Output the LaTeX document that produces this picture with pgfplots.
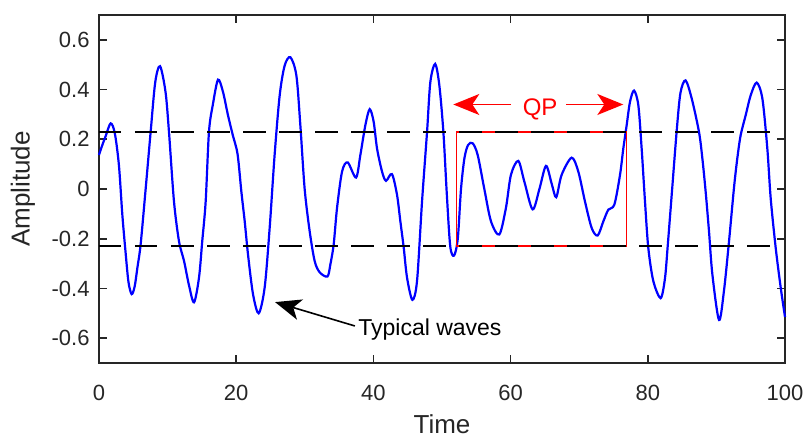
\documentclass[border=0pt]{standalone}
\usepackage{pgfplots}
\pgfplotsset{compat=1.18}
\usepackage{fontspec}
\setmainfont{Liberation Sans}
\usetikzlibrary{arrows.meta}
\definecolor{axgray}{gray}{0.15}
\pgfplotstableread{
x y
0 0.137
0.5 0.178
1.0 0.215
1.7 0.264
2.3 0.225
2.9 0.097
3.4 -0.103
3.9 -0.263
4.3 -0.375
4.76 -0.423
5.2 -0.392
5.6 -0.316
6.07 -0.223
6.8 0.0
7.53 0.23
8.2 0.43
8.9 0.494
9.7 0.39
10.2 0.23
10.93 -0.05
11.66 -0.21
12.4 -0.29
13.1 -0.385
13.85 -0.456
14.58 -0.356
15.05 -0.21
15.55 -0.05
16.03 0.23
16.6 0.34
17.35 0.44
18.08 0.39
18.8 0.297
19.5 0.217
20.2 0.14
20.75 -0.01
21.24 -0.13
21.72 -0.263
22.45 -0.423
23.28 -0.50
24.15 -0.396
24.88 -0.156
25.6 0.137
26.34 0.377
27.07 0.497
27.9 0.53
28.77 0.457
29.35 0.257
29.98 0.0
30.71 -0.17
31.44 -0.29
32.17 -0.335
33.3 -0.352
33.73 -0.303
34.21 -0.223
34.7 -0.076
35.43 0.07
36.25 0.107
37.47 0.046
38.1 0.137
38.83 0.257
39.46 0.321
40.04 0.27
40.53 0.163
41.26 0.07
41.84 0.033
42.7 0.06
43.44 -0.023
43.93 -0.13
44.42 -0.236
44.9 -0.356
45.68 -0.446
46.36 -0.37
47.09 -0.05
47.82 0.23
48.3 0.43
49.0 0.503
49.6 0.42
50.2 0.23
50.7 -0.02
51.2 -0.23
51.75 -0.268
52.3 -0.2
52.77 0.0
53.27 0.124
53.8 0.177
54.47 0.184
55.2 0.137
56.17 0.0
57.14 -0.13
58.35 -0.183
59.32 -0.076
60.05 0.057
61.12 0.113
62.0 0.03
63.21 -0.082
64.2 0.0
65.16 0.093
66.0 0.02
66.65 -0.033
67.44 0.057
68.9 0.126
69.87 0.07
70.84 -0.05
71.82 -0.157
72.69 -0.187
73.52 -0.13
74.25 -0.083
75.12 -0.063
75.95 0.057
76.43 0.163
76.92 0.257
77.4 0.35
77.99 0.396
78.62 0.337
79.1 0.164
79.59 -0.05
80.07 -0.236
80.8 -0.37
81.87 -0.439
82.5 -0.36
82.9 -0.23
83.55 0.0
84.2 0.23
84.75 0.385
85.5 0.437
86.4 0.364
87.46 0.23
87.95 0.124
88.43 -0.01
88.92 -0.17
89.41 -0.343
90.38 -0.527
91.1 -0.41
91.84 -0.21
92.56 0.004
93.05 0.124
93.54 0.217
94.27 0.297
95.0 0.377
95.87 0.428
96.7 0.364
97.42 0.164
97.91 -0.036
98.64 -0.236
99.37 -0.396
100 -0.515
}\wave
\begin{document}
\begin{tikzpicture}
\useasboundingbox (-49.5pt,-38pt) rectangle (354pt,181.5pt);
\begin{axis}[
  at={(0,0)}, anchor=south west,
  scale only axis, width=343pt, height=174pt,
  xmin=0, xmax=100, ymin=-0.7, ymax=0.7,
  xtick={0,20,40,60,80,100},
  ytick={-0.6,-0.4,-0.2,0,0.2,0.4,0.6},
  tick align=inside, major tick length=4pt,
  axis line style={axgray, line width=0.8pt},
  every tick/.style={axgray, line width=0.8pt},
  /pgf/number format/assume math mode=true,
  yticklabel style={/pgf/number format/fixed, /pgf/number format/precision=1},
  ticklabel style={font=\fontsize{11}{13}\selectfont, text=axgray},
  xticklabel style={anchor=base, yshift=-18.5pt},
  yticklabel style={anchor=east, xshift=-1.2pt},
  xlabel={Time}, ylabel={Amplitude},
  label style={font=\fontsize{13}{15}\selectfont, text=axgray},
  xlabel style={at={(axis description cs:0.5,-0.175)}, anchor=center},
  ylabel style={at={(axis description cs:-0.1108,0.5)}, anchor=center},
  clip=false,
]
\addplot[blue, line width=1.1pt, smooth] table[x=x,y=y] {\wave};
\addplot[red, line width=0.8pt] coordinates {(52.1,-0.229) (52.1,0.229) (76.9,0.229) (76.9,-0.229) (52.1,-0.229)};
\addplot[black, line width=1pt, dash pattern=on 11.25pt off 6.75pt] coordinates {(0,0.229) (98,0.229)};
\addplot[black, line width=1pt, dash pattern=on 11.25pt off 6.75pt] coordinates {(0,-0.229) (98,-0.229)};
\node[red, anchor=base, font=\fontsize{12}{14}\selectfont, inner sep=0pt] at (axis cs:64.3,0.297) {QP};
\draw[red, line width=0.8pt, -{Stealth[length=13pt, width=10.5pt, inset=3.5pt]}] (axis cs:60.06,0.34) -- (axis cs:51.65,0.34);
\draw[red, line width=0.8pt, -{Stealth[length=13pt, width=10.5pt, inset=3.5pt]}] (axis cs:68.08,0.34) -- (axis cs:76.43,0.34);
\draw[black, line width=0.8pt, -{Stealth[length=13pt, width=10.5pt, inset=3.5pt]}] (axis cs:37.3,-0.551) -- (axis cs:25.66,-0.455);
\node[black, anchor=base west, font=\fontsize{11.5}{13}\selectfont, inner sep=0pt] at (axis cs:37.75,-0.59) {Typical waves};
\end{axis}
\end{tikzpicture}
\end{document}
